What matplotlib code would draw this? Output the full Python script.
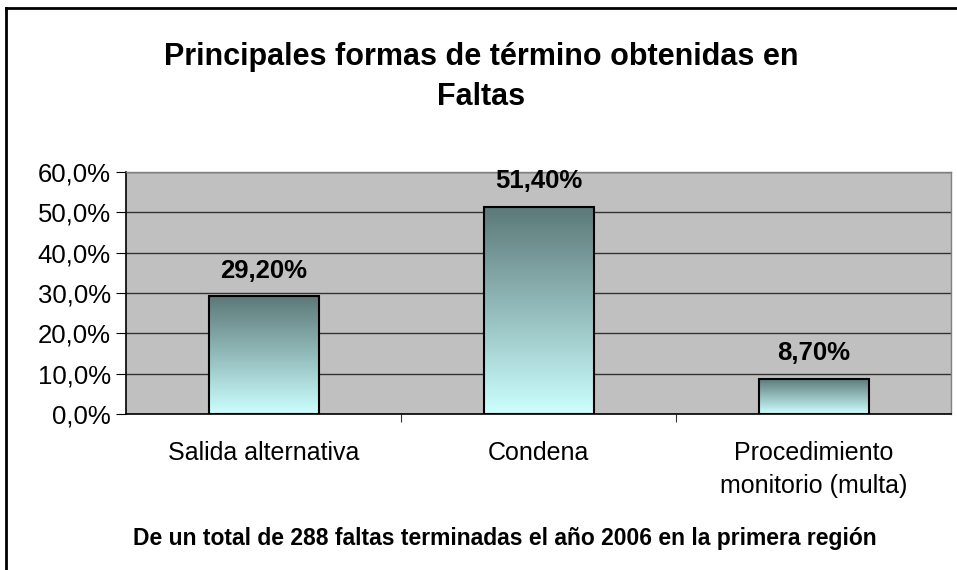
import numpy as np
import matplotlib.pyplot as plt
from matplotlib.lines import Line2D
from matplotlib.colors import LinearSegmentedColormap

plt.rcParams['font.family'] = ['Liberation Sans', 'DejaVu Sans']

categories = ['Salida alternativa', 'Condena', 'Procedimiento\nmonitorio (multa)']
values = [29.2, 51.4, 8.7]
bar_labels = ['29,20%', '51,40%', '8,70%']
yticks = [0, 10, 20, 30, 40, 50, 60]
ytick_labels = ['0,0%', '10,0%', '20,0%', '30,0%', '40,0%', '50,0%', '60,0%']

fig = plt.figure(figsize=(9.57, 5.7), dpi=100)
ax = fig.add_axes([126/957, 1 - 414/570, (951 - 126)/957, (414 - 172)/570])
ax.set_facecolor('#C0C0C0')

# gradient colour for bars: dark teal at top, pale cyan at bottom
cmap = LinearSegmentedColormap.from_list('bar', ['#CCFFFF', '#5C7878'])
grad = np.linspace(0, 1, 256).reshape(-1, 1)

width = 0.4
x = np.arange(len(categories))
for xi, v, lab in zip(x, values, bar_labels):
    ax.imshow(grad, cmap=cmap, origin='lower', aspect='auto',
              extent=[xi - width/2, xi + width/2, 0, v], zorder=3)
    ax.bar(xi, v, width, facecolor='none', edgecolor='black', linewidth=1.5, zorder=4)
    ax.annotate(lab, (xi, v), xytext=(0, 18.5), textcoords='offset points',
                ha='center', va='center', fontsize=18.5, fontweight='bold')

ax.set_xlim(-0.5, 2.5)
ax.set_ylim(0, 60)
ax.set_yticks(yticks)
ax.set_yticklabels(ytick_labels, fontsize=18.5)
ax.yaxis.grid(True, color='#333333', linewidth=1.0)
ax.set_axisbelow(True)

ax.set_xticks([0.5, 1.5], minor=False)
ax.set_xticklabels([])
ax.tick_params(axis='x', length=6, color='#333333')
ax.tick_params(axis='y', length=7, color='black', pad=4)
for xi, c in zip(x, categories):
    ax.text(xi, -6.6, c, ha='center', va='top', fontsize=18, linespacing=1.5)

for s in ['top', 'right']:
    ax.spines[s].set_color('#808080')
    ax.spines[s].set_linewidth(1)
ax.spines['left'].set_color('black')
ax.spines['bottom'].set_color('black')
ax.spines['left'].set_linewidth(1.2)
ax.spines['bottom'].set_linewidth(1.2)

fig.text(481/957, 1 - 77/570, 'Principales formas de término obtenidas en\nFaltas',
         ha='center', va='center', fontsize=22, fontweight='bold', linespacing=1.45)
fig.text(505/957, 1 - 538/570,
         'De un total de 288 faltas terminadas el año 2006 en la primera región',
         ha='center', va='center', fontsize=16.5, fontweight='bold')

# outer chart frame
fig.add_artist(Line2D([6/957, 6/957], [0, 1 - 8/570], transform=fig.transFigure,
                      color='black', linewidth=2))
fig.add_artist(Line2D([6/957, 1], [1 - 8/570, 1 - 8/570], transform=fig.transFigure,
                      color='black', linewidth=2))

fig.savefig('out.png', dpi=100)
